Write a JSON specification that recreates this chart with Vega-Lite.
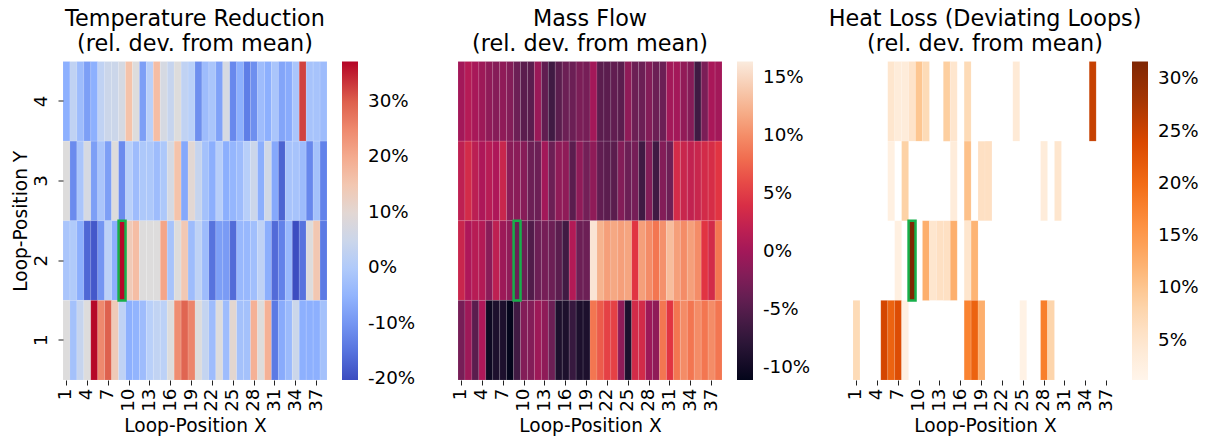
{
"$schema": "https://vega.github.io/schema/vega-lite/v6.json",
"background": "white",
"padding": {"left": 11, "top": 7.5, "right": 5, "bottom": 2},
"bounds": "flush",
"config": {
  "font": "DejaVu Sans",
  "view": {"stroke": null},
  "concat": {"spacing": 131},
  "axis": {"labelFont": "DejaVu Sans", "titleFont": "DejaVu Sans", "labelFontSize": 18.3, "titleFontSize": 18.6, "titleFontWeight": "normal", "labelColor": "#000", "titleColor": "#000", "tickColor": "#222", "tickSize": 5, "domain": false, "grid": false, "labelPadding": 3},
  "legend": {"labelFont": "DejaVu Sans", "labelFontSize": 18.3, "labelColor": "#000"},
  "title": {"font": "DejaVu Sans", "fontSize": 22.3, "fontWeight": "normal", "color": "#000"}
},
"datasets": {
"hl": [{"x": 9, "y": 2}],
"temp": [
{"x":1,"y":4,"v":-5.8},{"x":2,"y":4,"v":2.8},{"x":3,"y":4,"v":-3},{"x":4,"y":4,"v":-8.5},{"x":5,"y":4,"v":-5.8},{"x":6,"y":4,"v":2.8},{"x":7,"y":4,"v":5},{"x":8,"y":4,"v":5},{"x":9,"y":4,"v":7},{"x":10,"y":4,"v":16},{"x":11,"y":4,"v":8.6},{"x":12,"y":4,"v":-8.5},{"x":13,"y":4,"v":1.4},{"x":14,"y":4,"v":17},{"x":15,"y":4,"v":7},{"x":16,"y":4,"v":4},{"x":17,"y":4,"v":8.6},{"x":18,"y":4,"v":2.8},{"x":19,"y":4,"v":1.4},{"x":20,"y":4,"v":-11},{"x":21,"y":4,"v":-3},{"x":22,"y":4,"v":-1},{"x":23,"y":4,"v":-8},{"x":24,"y":4,"v":7},{"x":25,"y":4,"v":-12},{"x":26,"y":4,"v":-5.8},{"x":27,"y":4,"v":-13.5},{"x":28,"y":4,"v":-11},{"x":29,"y":4,"v":-3},{"x":30,"y":4,"v":-5.8},{"x":31,"y":4,"v":-1},{"x":32,"y":4,"v":-7.5},{"x":33,"y":4,"v":-6.5},{"x":34,"y":4,"v":-1},{"x":35,"y":4,"v":32.5},{"x":36,"y":4,"v":-1.5},{"x":37,"y":4,"v":-1.5},{"x":38,"y":4,"v":-3},
{"x":1,"y":3,"v":8.6},{"x":2,"y":3,"v":-11.5},{"x":3,"y":3,"v":-1},{"x":4,"y":3,"v":7},{"x":5,"y":3,"v":-8.5},{"x":6,"y":3,"v":-1},{"x":7,"y":3,"v":-8.5},{"x":8,"y":3,"v":8.6},{"x":9,"y":3,"v":-11.5},{"x":10,"y":3,"v":1.4},{"x":11,"y":3,"v":-3},{"x":12,"y":3,"v":-0.5},{"x":13,"y":3,"v":-0.5},{"x":14,"y":3,"v":-3},{"x":15,"y":3,"v":-0.5},{"x":16,"y":3,"v":7},{"x":17,"y":3,"v":16},{"x":18,"y":3,"v":-7},{"x":19,"y":3,"v":10},{"x":20,"y":3,"v":4},{"x":21,"y":3,"v":-2},{"x":22,"y":3,"v":-6},{"x":23,"y":3,"v":1},{"x":24,"y":3,"v":-6},{"x":25,"y":3,"v":-4.5},{"x":26,"y":3,"v":-3},{"x":27,"y":3,"v":1},{"x":28,"y":3,"v":5},{"x":29,"y":3,"v":-6},{"x":30,"y":3,"v":6},{"x":31,"y":3,"v":-7},{"x":32,"y":3,"v":-17},{"x":33,"y":3,"v":-1.5},{"x":34,"y":3,"v":-1.5},{"x":35,"y":3,"v":-3},{"x":36,"y":3,"v":-12},{"x":37,"y":3,"v":-2},{"x":38,"y":3,"v":-13},
{"x":1,"y":2,"v":-1},{"x":2,"y":2,"v":0},{"x":3,"y":2,"v":-6},{"x":4,"y":2,"v":-16.5},{"x":5,"y":2,"v":-18.5},{"x":6,"y":2,"v":-10},{"x":7,"y":2,"v":2},{"x":8,"y":2,"v":-6},{"x":9,"y":2,"v":37},{"x":10,"y":2,"v":14},{"x":11,"y":2,"v":17},{"x":12,"y":2,"v":8.6},{"x":13,"y":2,"v":8.6},{"x":14,"y":2,"v":8.6},{"x":15,"y":2,"v":21},{"x":16,"y":2,"v":-1.5},{"x":17,"y":2,"v":8.6},{"x":18,"y":2,"v":14.5},{"x":19,"y":2,"v":-3},{"x":20,"y":2,"v":2.5},{"x":21,"y":2,"v":-3},{"x":22,"y":2,"v":-15},{"x":23,"y":2,"v":-8.5},{"x":24,"y":2,"v":-9},{"x":25,"y":2,"v":-16},{"x":26,"y":2,"v":-4},{"x":27,"y":2,"v":-4},{"x":28,"y":2,"v":-2.5},{"x":29,"y":2,"v":2.5},{"x":30,"y":2,"v":-6},{"x":31,"y":2,"v":-16},{"x":32,"y":2,"v":-13},{"x":33,"y":2,"v":-4},{"x":34,"y":2,"v":-20},{"x":35,"y":2,"v":-15},{"x":36,"y":2,"v":8.6},{"x":37,"y":2,"v":15},{"x":38,"y":2,"v":-14},
{"x":1,"y":1,"v":8.6},{"x":2,"y":1,"v":-2},{"x":3,"y":1,"v":4},{"x":4,"y":1,"v":8.6},{"x":5,"y":1,"v":37},{"x":6,"y":1,"v":25},{"x":7,"y":1,"v":30},{"x":8,"y":1,"v":14},{"x":9,"y":1,"v":2.5},{"x":10,"y":1,"v":-5.8},{"x":11,"y":1,"v":-5},{"x":12,"y":1,"v":-3},{"x":13,"y":1,"v":1.4},{"x":14,"y":1,"v":3},{"x":15,"y":1,"v":2},{"x":16,"y":1,"v":8.6},{"x":17,"y":1,"v":24.5},{"x":18,"y":1,"v":29.5},{"x":19,"y":1,"v":25.5},{"x":20,"y":1,"v":8.6},{"x":21,"y":1,"v":3.5},{"x":22,"y":1,"v":-3},{"x":23,"y":1,"v":8.6},{"x":24,"y":1,"v":-3},{"x":25,"y":1,"v":10.5},{"x":26,"y":1,"v":-2},{"x":27,"y":1,"v":-2},{"x":28,"y":1,"v":19},{"x":29,"y":1,"v":8.6},{"x":30,"y":1,"v":19},{"x":31,"y":1,"v":-14},{"x":32,"y":1,"v":-6.5},{"x":33,"y":1,"v":-3.5},{"x":34,"y":1,"v":5},{"x":35,"y":1,"v":-5.8},{"x":36,"y":1,"v":-5.8},{"x":37,"y":1,"v":-5.8},{"x":38,"y":1,"v":-2}
],
"mass": [
{"x":1,"y":4,"v":0.1},{"x":2,"y":4,"v":1.3},{"x":3,"y":4,"v":0.4},{"x":4,"y":4,"v":-0.3},{"x":5,"y":4,"v":-1.2},{"x":6,"y":4,"v":-1.8},{"x":7,"y":4,"v":-1.2},{"x":8,"y":4,"v":-2},{"x":9,"y":4,"v":-3.5},{"x":10,"y":4,"v":-4.6},{"x":11,"y":4,"v":-4.6},{"x":12,"y":4,"v":-0.5},{"x":13,"y":4,"v":-4.2},{"x":14,"y":4,"v":-6.4},{"x":15,"y":4,"v":-4.6},{"x":16,"y":4,"v":-3.5},{"x":17,"y":4,"v":-3.5},{"x":18,"y":4,"v":-2.5},{"x":19,"y":4,"v":-2.8},{"x":20,"y":4,"v":0.1},{"x":21,"y":4,"v":-4.6},{"x":22,"y":4,"v":-4.6},{"x":23,"y":4,"v":-4.2},{"x":24,"y":4,"v":-4.6},{"x":25,"y":4,"v":-1.2},{"x":26,"y":4,"v":-3.5},{"x":27,"y":4,"v":-3.5},{"x":28,"y":4,"v":-2},{"x":29,"y":4,"v":-3.5},{"x":30,"y":4,"v":-3.5},{"x":31,"y":4,"v":0.1},{"x":32,"y":4,"v":0.1},{"x":33,"y":4,"v":-1},{"x":34,"y":4,"v":-1.8},{"x":35,"y":4,"v":-6.4},{"x":36,"y":4,"v":-2.5},{"x":37,"y":4,"v":0.5},{"x":38,"y":4,"v":0.1},
{"x":1,"y":3,"v":2},{"x":2,"y":3,"v":3.5},{"x":3,"y":3,"v":1.8},{"x":4,"y":3,"v":0.8},{"x":5,"y":3,"v":1.5},{"x":6,"y":3,"v":0.8},{"x":7,"y":3,"v":2.8},{"x":8,"y":3,"v":-1.5},{"x":9,"y":3,"v":-1.5},{"x":10,"y":3,"v":-1.7},{"x":11,"y":3,"v":-3.5},{"x":12,"y":3,"v":-3.5},{"x":13,"y":3,"v":0.1},{"x":14,"y":3,"v":-3.5},{"x":15,"y":3,"v":-1.2},{"x":16,"y":3,"v":-1.2},{"x":17,"y":3,"v":-4.6},{"x":18,"y":3,"v":-1.2},{"x":19,"y":3,"v":-3},{"x":20,"y":3,"v":-1.2},{"x":21,"y":3,"v":-4.2},{"x":22,"y":3,"v":-4.6},{"x":23,"y":3,"v":-4.6},{"x":24,"y":3,"v":-2},{"x":25,"y":3,"v":-3.5},{"x":26,"y":3,"v":-2.8},{"x":27,"y":3,"v":-6.4},{"x":28,"y":3,"v":-2},{"x":29,"y":3,"v":-6.4},{"x":30,"y":3,"v":-2},{"x":31,"y":3,"v":-3.5},{"x":32,"y":3,"v":3.5},{"x":33,"y":3,"v":2.8},{"x":34,"y":3,"v":2.3},{"x":35,"y":3,"v":2.8},{"x":36,"y":3,"v":3.5},{"x":37,"y":3,"v":3.8},{"x":38,"y":3,"v":4.7},
{"x":1,"y":2,"v":2.8},{"x":2,"y":2,"v":0.8},{"x":3,"y":2,"v":1.5},{"x":4,"y":2,"v":1.2},{"x":5,"y":2,"v":-1.5},{"x":6,"y":2,"v":2},{"x":7,"y":2,"v":-0.3},{"x":8,"y":2,"v":-1.2},{"x":9,"y":2,"v":-3.5},{"x":10,"y":2,"v":-3.5},{"x":11,"y":2,"v":-5.3},{"x":12,"y":2,"v":-3.5},{"x":13,"y":2,"v":-2.8},{"x":14,"y":2,"v":-3.5},{"x":15,"y":2,"v":-4.6},{"x":16,"y":2,"v":-6.4},{"x":17,"y":2,"v":1.2},{"x":18,"y":2,"v":-3.5},{"x":19,"y":2,"v":-3.5},{"x":20,"y":2,"v":16},{"x":21,"y":2,"v":12.5},{"x":22,"y":2,"v":11.2},{"x":23,"y":2,"v":11.8},{"x":24,"y":2,"v":11.2},{"x":25,"y":2,"v":11.6},{"x":26,"y":2,"v":4.7},{"x":27,"y":2,"v":11.2},{"x":28,"y":2,"v":10},{"x":29,"y":2,"v":8.6},{"x":30,"y":2,"v":10.3},{"x":31,"y":2,"v":13.2},{"x":32,"y":2,"v":11.2},{"x":33,"y":2,"v":10},{"x":34,"y":2,"v":11.2},{"x":35,"y":2,"v":10},{"x":36,"y":2,"v":4.7},{"x":37,"y":2,"v":3.5},{"x":38,"y":2,"v":8.6},
{"x":1,"y":1,"v":-2.8},{"x":2,"y":1,"v":-0.3},{"x":3,"y":1,"v":-4.6},{"x":4,"y":1,"v":0.8},{"x":5,"y":1,"v":-10.2},{"x":6,"y":1,"v":-9},{"x":7,"y":1,"v":-9},{"x":8,"y":1,"v":-11},{"x":9,"y":1,"v":-6.4},{"x":10,"y":1,"v":-2},{"x":11,"y":1,"v":-2},{"x":12,"y":1,"v":-0.3},{"x":13,"y":1,"v":-1.2},{"x":14,"y":1,"v":-3.5},{"x":15,"y":1,"v":-9},{"x":16,"y":1,"v":-9},{"x":17,"y":1,"v":-7},{"x":18,"y":1,"v":-9},{"x":19,"y":1,"v":-9},{"x":20,"y":1,"v":8.6},{"x":21,"y":1,"v":7},{"x":22,"y":1,"v":5.5},{"x":23,"y":1,"v":5.5},{"x":24,"y":1,"v":-1.2},{"x":25,"y":1,"v":-9},{"x":26,"y":1,"v":3.5},{"x":27,"y":1,"v":3.5},{"x":28,"y":1,"v":-0.3},{"x":29,"y":1,"v":-1.2},{"x":30,"y":1,"v":8.6},{"x":31,"y":1,"v":4.7},{"x":32,"y":1,"v":8.6},{"x":33,"y":1,"v":10},{"x":34,"y":1,"v":8.6},{"x":35,"y":1,"v":10},{"x":36,"y":1,"v":8.6},{"x":37,"y":1,"v":10},{"x":38,"y":1,"v":8.6}
],
"heat": [
{"x":6,"y":4,"v":5},{"x":7,"y":4,"v":3.5},{"x":8,"y":4,"v":3.5},{"x":9,"y":4,"v":5.5},{"x":10,"y":4,"v":10},{"x":11,"y":4,"v":7},{"x":14,"y":4,"v":9},{"x":15,"y":4,"v":5},{"x":17,"y":4,"v":7},{"x":24,"y":4,"v":4},{"x":35,"y":4,"v":25.5},
{"x":6,"y":3,"v":2.5},{"x":8,"y":3,"v":8.5},{"x":15,"y":3,"v":3.5},{"x":17,"y":3,"v":10.5},{"x":19,"y":3,"v":6},{"x":20,"y":3,"v":6},{"x":28,"y":3,"v":3.5},{"x":30,"y":3,"v":5},
{"x":7,"y":2,"v":2.5},{"x":9,"y":2,"v":31.7},{"x":11,"y":2,"v":12.5},{"x":12,"y":2,"v":5},{"x":13,"y":2,"v":6},{"x":14,"y":2,"v":6},{"x":15,"y":2,"v":12.5},{"x":17,"y":2,"v":5},{"x":18,"y":2,"v":12},
{"x":1,"y":1,"v":7},{"x":5,"y":1,"v":24.5},{"x":6,"y":1,"v":21},{"x":7,"y":1,"v":23.5},{"x":8,"y":1,"v":2.5},{"x":17,"y":1,"v":17.5},{"x":18,"y":1,"v":21},{"x":19,"y":1,"v":12.5},{"x":25,"y":1,"v":2},{"x":28,"y":1,"v":18},{"x":29,"y":1,"v":8}
]
},
"hconcat": [
{
  "width": 264, "height": 318.5,
  "title": {"text": ["Temperature Reduction", "\u00a0(rel. dev. from mean)"], "anchor": "middle", "lineHeight": 25, "offset": 6},
  "layer": [
    {"data": {"name": "temp"},
     "mark": {"type": "rect", "stroke": "white", "strokeWidth": 0.4, "strokeOpacity": 0.25},
     "encoding": {
       "x": {"field": "x", "type": "ordinal", "title": "Loop-Position X",
             "scale": {"domain": [1,2,3,4,5,6,7,8,9,10,11,12,13,14,15,16,17,18,19,20,21,22,23,24,25,26,27,28,29,30,31,32,33,34,35,36,37,38], "paddingInner": 0, "paddingOuter": 0},
             "axis": {"values": [1,4,7,10,13,16,19,22,25,28,31,34,37], "labelAngle": -90, "titlePadding": 5}},
       "y": {"field": "y", "type": "ordinal", "title": "Loop-Position Y",
             "scale": {"domain": [4,3,2,1], "paddingInner": 0, "paddingOuter": 0},
             "axis": {"labelAngle": -90, "labelAlign": "center", "labelBaseline": "bottom", "labelPadding": 8, "titlePadding": 1}},
       "color": {"field": "v", "type": "quantitative",
                 "scale": {"domain": [-20.15, -12.97, -5.79, 1.39, 8.58, 15.76, 22.94, 30.12, 37.3], "range": ["#3b4cc0", "#6282ea", "#8db0fe", "#b9d0f9", "#dddcdc", "#f5c4ac", "#f49a7b", "#de604d", "#b40426"], "interpolate": "rgb"},
                 "legend": {"title": null, "direction": "vertical", "orient": "right", "gradientLength": 318.5, "gradientThickness": 16, "gradientStrokeWidth": 0, "offset": 15, "labelOffset": 10, "padding": 0, "values": [-20, -10, 0, 10, 20, 30], "labelExpr": "datum.value + '%'"}}
     }},
    {"data": {"name": "hl"},
     "mark": {"type": "rect", "filled": false, "color": "#17b04b", "strokeWidth": 2.5},
     "encoding": {
       "x": {"field": "x", "type": "ordinal", "title": "Loop-Position X"},
       "y": {"field": "y", "type": "ordinal", "title": "Loop-Position Y"}
     }}
  ]
},
{
  "width": 264, "height": 318.5,
  "title": {"text": ["Mass Flow", "\u00a0(rel. dev. from mean)"], "anchor": "middle", "lineHeight": 25, "offset": 6},
  "layer": [
    {"data": {"name": "mass"},
     "mark": {"type": "rect", "stroke": "white", "strokeWidth": 0.4, "strokeOpacity": 0.25},
     "encoding": {
       "x": {"field": "x", "type": "ordinal", "title": "Loop-Position X",
             "scale": {"domain": [1,2,3,4,5,6,7,8,9,10,11,12,13,14,15,16,17,18,19,20,21,22,23,24,25,26,27,28,29,30,31,32,33,34,35,36,37,38], "paddingInner": 0, "paddingOuter": 0},
             "axis": {"values": [1,4,7,10,13,16,19,22,25,28,31,34,37], "labelAngle": -90, "titlePadding": 5}},
       "y": {"field": "y", "type": "ordinal",
             "scale": {"domain": [4,3,2,1], "paddingInner": 0, "paddingOuter": 0},
             "axis": null},
       "color": {"field": "v", "type": "quantitative",
                 "scale": {"domain": [-11.08, -7.144, -3.207, 0.73, 4.666, 8.6, 12.54, 16.47], "range": ["#03051a", "#35193e", "#701f57", "#ad1759", "#e13342", "#f37651", "#f6b48f", "#faebdd"], "interpolate": "rgb"},
                 "legend": {"title": null, "direction": "vertical", "orient": "right", "gradientLength": 318.5, "gradientThickness": 16, "gradientStrokeWidth": 0, "offset": 15, "labelOffset": 10, "padding": 0, "values": [-10, -5, 0, 5, 10, 15], "labelExpr": "datum.value + '%'"}}
     }},
    {"data": {"name": "hl"},
     "mark": {"type": "rect", "filled": false, "color": "#17b04b", "strokeWidth": 2.5},
     "encoding": {
       "x": {"field": "x", "type": "ordinal", "title": "Loop-Position X"},
       "y": {"field": "y", "type": "ordinal", "axis": null}
     }}
  ]
},
{
  "width": 264, "height": 318.5,
  "title": {"text": ["Heat Loss (Deviating Loops)", "\u00a0(rel. dev. from mean)"], "anchor": "middle", "lineHeight": 25, "offset": 6},
  "layer": [
    {"data": {"name": "heat"},
     "mark": {"type": "rect", "stroke": "white", "strokeWidth": 0.4, "strokeOpacity": 0.25},
     "encoding": {
       "x": {"field": "x", "type": "ordinal", "title": "Loop-Position X",
             "scale": {"domain": [1,2,3,4,5,6,7,8,9,10,11,12,13,14,15,16,17,18,19,20,21,22,23,24,25,26,27,28,29,30,31,32,33,34,35,36,37,38], "paddingInner": 0, "paddingOuter": 0},
             "axis": {"values": [1,4,7,10,13,16,19,22,25,28,31,34,37], "labelAngle": -90, "titlePadding": 5}},
       "y": {"field": "y", "type": "ordinal",
             "scale": {"domain": [4,3,2,1], "paddingInner": 0, "paddingOuter": 0},
             "axis": null},
       "color": {"field": "v", "type": "quantitative",
                 "scale": {"domain": [1.22, 5.0325, 8.845, 12.6575, 16.47, 20.2825, 24.095, 27.9075, 31.72], "range": ["#fff5eb", "#fee6ce", "#fdd0a2", "#fdae6b", "#fd8d3c", "#f16913", "#d94801", "#a63603", "#7f2704"], "interpolate": "rgb"},
                 "legend": {"title": null, "direction": "vertical", "orient": "right", "gradientLength": 318.5, "gradientThickness": 16, "gradientStrokeWidth": 0, "offset": 15, "labelOffset": 10, "padding": 0, "values": [5, 10, 15, 20, 25, 30], "labelExpr": "datum.value + '%'"}}
     }},
    {"data": {"name": "hl"},
     "mark": {"type": "rect", "filled": false, "color": "#17b04b", "strokeWidth": 2.5},
     "encoding": {
       "x": {"field": "x", "type": "ordinal", "title": "Loop-Position X"},
       "y": {"field": "y", "type": "ordinal", "axis": null}
     }}
  ]
}
],
"resolve": {"scale": {"color": "independent"}, "legend": {"color": "independent"}}
}
